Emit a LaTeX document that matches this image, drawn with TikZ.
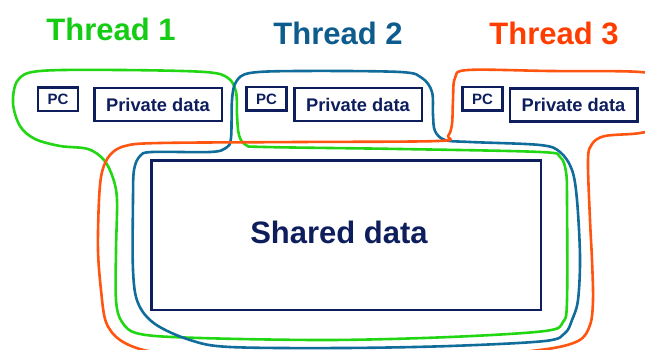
\documentclass[tikz,border=0pt]{standalone}
\usepackage{fontspec}
\setmainfont{Liberation Sans}
\definecolor{navy}{RGB}{14,30,92}
\definecolor{tgreen}{RGB}{20,204,20}
\definecolor{cgreen}{RGB}{34,214,20}
\definecolor{tblue}{RGB}{14,92,142}
\definecolor{cblue}{RGB}{16,108,154}
\definecolor{torange}{RGB}{255,61,0}
\definecolor{corange}{RGB}{255,85,17}
\begin{document}
\begin{tikzpicture}[x=1pt,y=-1pt,
  title/.style={font=\bfseries\fontsize{31}{31}\selectfont, inner sep=0pt},
  pcbox/.style={draw=navy, line width=2.5pt, inner sep=0pt, minimum width=40pt, minimum height=23.5pt, text=navy, font=\bfseries\fontsize{15}{15}\selectfont},
  pdbox/.style={draw=navy, line width=2.5pt, inner sep=0pt, minimum width=127.5pt, minimum height=33pt, text=navy, font=\bfseries\fontsize{18.3}{18.3}\selectfont},
  loop/.style={line width=2.6pt, line join=round}
]
\useasboundingbox (0,0) rectangle (645,350);
\clip (0,0) rectangle (645,350);

% titles
\node[title, text=tgreen] (t1) at (111,29) {Thread 1};
\node[title, text=tblue] (t2) at (338,33) {Thread 2};
\node[title, text=torange] (t3) at (554,33.5) {Thread 3};

% thread loops
\draw[loop, cgreen] plot[smooth cycle, tension=0.55] coordinates {
 (13,103) (18,80) (40,71) (120,70) (205,72) (228,78) (236,92) (237,115) (239,135) (246,145) (265,147)
 (400,149) (540,152) (560,157) (566,172) (567,200) (567,300) (563,322) (545,331) (450,337) (330,340)
 (200,338) (140,334) (122,322) (116,300) (116,250) (117,200) (113,178) (104,160) (88,149) (60,146) (35,139) (20,126)};
\draw[loop, cblue] plot[smooth cycle, tension=0.55] coordinates {
 (232,100) (236,82) (250,73) (300,71) (400,72) (422,78) (432,92) (433,115) (435,131) (445,140) (470,142)
 (540,145) (560,152) (572,170) (577,200) (580,257) (578,300) (572,320) (565,333) (545,341) (450,346)
 (343,348) (230,347) (190,340) (155,324) (138,303) (133,270) (133,200) (134,170) (140,156) (152,152)
 (210,152) (226,148) (231,138)};
\draw[loop, corange] plot[smooth cycle, tension=0.55] coordinates {
 (453,100) (455,78) (468,70) (550,71) (640,72) (657,80) (658,125) (640,133) (605,136) (592,144) (588,160)
 (590,220) (592,260) (593,300) (590,325) (578,341) (540,350) (450,357) (340,358) (200,356) (148,351)
 (120,340) (106,322) (101,290) (98,250) (99,200) (102,172) (110,155) (125,146) (160,143) (300,142)
 (438,141) (448,136) (452,124)};

% private parts
\node[pcbox] (pc1) at (58,99.5) {PC};
\node[pdbox] (pd1) at (158,104.5) {Private data};
\node[pcbox] (pc2) at (266.5,99) {PC};
\node[pdbox] (pd2) at (358,104.5) {Private data};
\node[pcbox] (pc3) at (482.5,99) {PC};
\node[pdbox] (pd3) at (573.5,105) {Private data};

% shared
\node[draw=navy, line width=2.5pt, minimum width=389.5pt, minimum height=149.5pt, inner sep=0pt] (shared) at (346,235) {};
\node[text=navy, font=\bfseries\fontsize{31}{31}\selectfont, inner sep=0pt] (sharedtxt) at (339,232.5) {Shared data};
\end{tikzpicture}
\end{document}
